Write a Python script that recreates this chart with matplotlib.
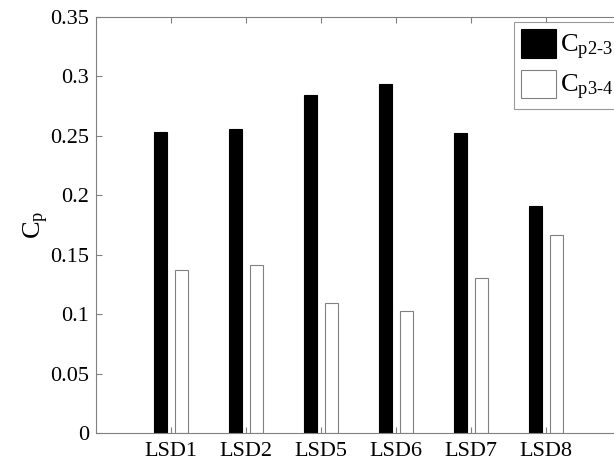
import numpy as np
import matplotlib
matplotlib.use("Agg")
import matplotlib.pyplot as plt

plt.rcParams['font.family'] = ['Liberation Serif', 'DejaVu Serif']
plt.rcParams['mathtext.fontset'] = 'custom'
plt.rcParams['mathtext.rm'] = 'Liberation Serif'
plt.rcParams['mathtext.it'] = 'Liberation Serif'

labels = ['LSD1', 'LSD2', 'LSD5', 'LSD6', 'LSD7', 'LSD8']
cp23 = [0.253, 0.256, 0.284, 0.294, 0.252, 0.191]
cp34 = [0.137, 0.141, 0.109, 0.103, 0.130, 0.167]
yticks = [0, 0.05, 0.1, 0.15, 0.2, 0.25, 0.3, 0.35]
ytick_labels = ['0', '0.05', '0.1', '0.15', '0.2', '0.25', '0.3', '0.35']

fig = plt.figure(figsize=(6.14, 4.62), dpi=100)
# right edge of the axes falls just outside the picture
ax = fig.add_axes([96 / 614, (462 - 433) / 462, 525 / 614, 416 / 462])

x = np.arange(1, len(labels) + 1)
w = 0.17
ax.bar(x - 0.14, cp23, w, color='black', edgecolor='black', linewidth=0.8,
       label=r'C$_{\rm p2\text{-}3}$')
ax.bar(x + 0.14, cp34, w, color='white', edgecolor='#808080', linewidth=0.8,
       label=r'C$_{\rm p3\text{-}4}$')

ax.set_xlim(0, 7)
ax.set_ylim(0, 0.35)
ax.set_xticks(x)
ax.set_xticklabels(labels)
ax.set_yticks(yticks)
ax.set_yticklabels(ytick_labels)
ax.tick_params(direction='in', length=4, color='#808080', labelsize=16,
               top=True, right=True)
ax.tick_params(axis='y', pad=5)
ax.tick_params(axis='x', pad=6.5)
for s in ax.spines.values():
    s.set_color('#808080')
    s.set_linewidth(0.8)

ax.set_ylabel(r'C$_{\rm p}$', fontsize=19)
ax.yaxis.set_label_coords(-0.085, 0.5)

leg = ax.legend(loc='upper left', bbox_to_anchor=(514 / 614, 1 - 22 / 462),
                bbox_transform=fig.transFigure, fontsize=19,
                frameon=True, fancybox=False, handlelength=1.33, handleheight=1.3,
                handletextpad=0.15, borderpad=0.26, labelspacing=0.3,
                borderaxespad=0.0)
leg.get_frame().set_edgecolor('#808080')
leg.get_frame().set_linewidth(0.8)

fig.savefig('out.png', dpi=100)
